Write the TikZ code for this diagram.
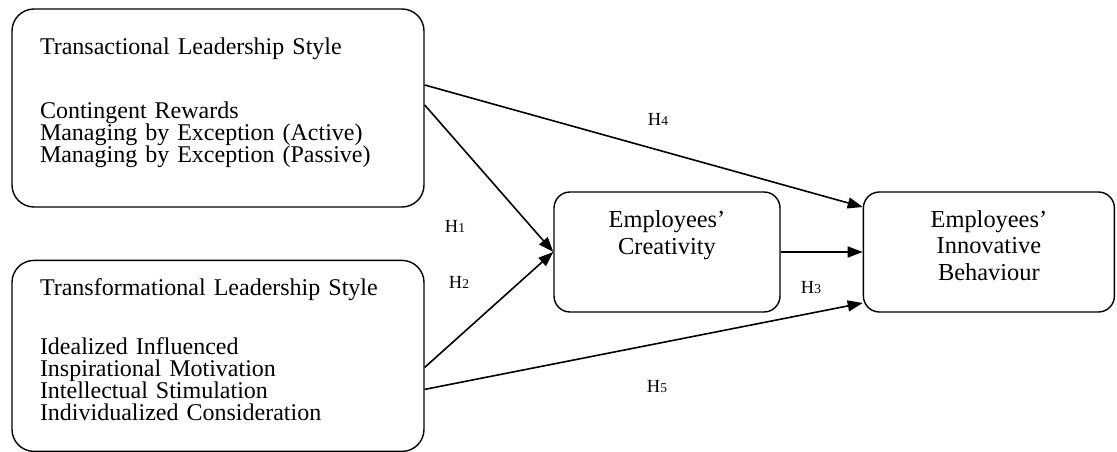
\documentclass[tikz,border=0pt]{standalone}
\usepackage{fontspec}
\setmainfont{Liberation Serif}
\usetikzlibrary{arrows.meta}
\usetikzlibrary{positioning}

\newcommand{\hnum}[1]{{\fontsize{13.5}{15}\selectfont #1}}

\begin{document}
\begin{tikzpicture}[x=1pt, y=-1pt, leader/.style={rectangle, draw, line width=1.4pt, rounded corners=22pt, align=left, text width=356pt, inner xsep=28pt, font=\fontsize{24}{22}\selectfont}, outcome/.style={rectangle, draw, line width=1.4pt, rounded corners=16pt, align=center, minimum height=120pt, font=\fontsize{24.4}{26.5}\selectfont}, hyp/.style={font=\fontsize{18.5}{20}\selectfont}, link/.style={-{Triangle[length=15pt,width=11pt]}, line width=1.6pt}, node distance=52pt]

\useasboundingbox (0,0) rectangle (1117,452);

\node[leader, minimum height=198pt] (transactional) at (218,108) {Transactional Leadership Style\\[42pt]Contingent Rewards\\Managing by Exception (Active)\\Managing by Exception (Passive)\\[-7pt]\mbox{}};
\node[leader, minimum height=191pt, below=of transactional] (transformational) {Transformational Leadership Style\\[36pt]Idealized Influenced\\Inspirational Motivation\\Intellectual Stimulation\\Individualized Consideration\\[-10pt]\mbox{}};
\node[outcome, minimum width=226pt] (creativity) at (667,252) {Employees'\\Creativity\\[12.8pt]\mbox{}};
\node[outcome, minimum width=251pt, right=82pt of creativity] (innovative) {Employees'\\Innovative\\Behaviour\\[-13.1pt]\mbox{}};

\node[hyp] (h1) at (455,226) {H\hnum{1}};
\node[hyp] (h2) at (459,282) {H\hnum{2}};
\node[hyp] (h3) at (811,288) {H\hnum{3}};
\node[hyp] (h4) at (658,119) {H\hnum{4}};
\node[hyp] (h5) at (657,387) {H\hnum{5}};

\draw[link] ([yshift=23pt]transactional.east) -- ([yshift=45pt]innovative.west);
\draw[link] ([yshift=3pt]transactional.east) -- (creativity.west);
\draw[link] ([yshift=-11.5pt]transformational.east) -- (creativity.west);
\draw[link] ([yshift=-33.5pt]transformational.east) -- ([yshift=-51pt]innovative.west);
\draw[link] (creativity.east) -- (innovative.west);

\end{tikzpicture}
\end{document}
